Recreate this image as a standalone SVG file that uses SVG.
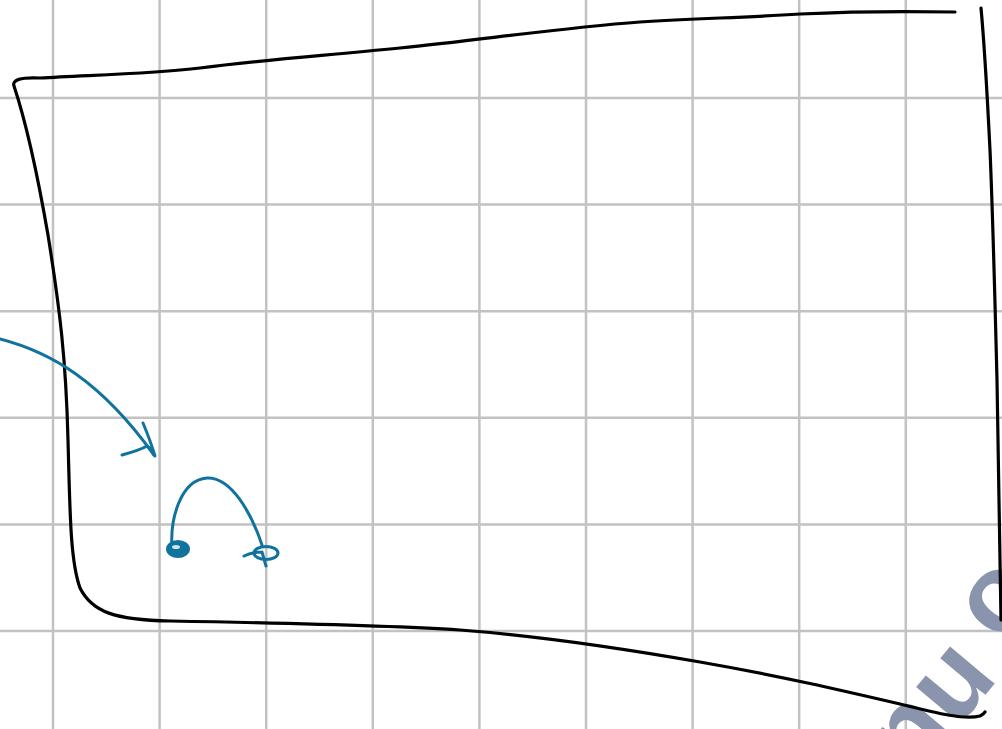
<svg xmlns="http://www.w3.org/2000/svg" width="1002" height="729" viewBox="0 0 1002 729">
<style>
.grid{stroke:#c2c2c2;stroke-width:2.5;fill:none}
.ink{stroke:#000;stroke-width:3.2;fill:none;stroke-linecap:round;stroke-linejoin:round}
.blue{stroke:#10739E;stroke-width:3;fill:none;stroke-linecap:round;stroke-linejoin:round}
.wm{font-family:"Liberation Sans",Arial,sans-serif;font-weight:bold;font-size:110px;fill:#8a94ac}
</style>
<rect width="1002" height="729" fill="#fff"/>
<g id="grid">
<path class="grid" d="M53 0V729M159.6 0V729M266.2 0V729M372.8 0V729M479.4 0V729M586 0V729M692.6 0V729M799.2 0V729M905.8 0V729"/>
<path class="grid" d="M0 98H1002M0 204.6H1002M0 311.2H1002M0 417.8H1002M0 524.4H1002M0 631H1002"/>
</g>
<g id="watermark">
<text class="wm" transform="translate(913 781) rotate(-50)">nu<tspan dx="26" dy="-20">o</tspan></text>
</g>
<g id="shape">
<path class="ink" d="M955 12 C900 11 860 11 800 14 C740 18 700 18 640 22 C560 28 480 40 400 48 C320 56 260 60 200 68 C150 74 90 75 40 78 C20 77 12 80 14 86 C22 110 35 160 48 235 C60 310 66 360 68 440 C70 510 70 560 80 588 C92 612 115 620 170 621 C280 623 380 625 460 630 C540 636 620 648 700 662 C780 676 840 690 900 704 C940 714 965 720 980 716 C984 714 985 712 985 712"/>
<path class="ink" d="M981 8 C984 40 987 90 990 150 C993 220 995 300 997 380 C999 460 1000 540 1001 620"/>
</g>
<g id="connectors">
<path class="blue" d="M0 339 C50 352 100 380 154 455"/>
<path class="blue" d="M143 423 C148 435 152 446 155 456 M122 455 C133 452 142 449 147 446 C150 448 152 451 154 455"/>
<path class="blue" d="M172 548 C170 520 180 480 207 478 C232 477 252 515 262 545"/>
<ellipse cx="178" cy="549" rx="11" ry="8" fill="#10739E" stroke="#10739E" stroke-width="2"/>
<ellipse cx="176" cy="547" rx="4" ry="2" fill="#cfe4ee"/>
<ellipse cx="266" cy="553" rx="12" ry="6.5" class="blue"/>
<path class="blue" d="M244 556 C250 553 256 552 262 552 M262 552 L266 566"/>
</g>
</svg>
